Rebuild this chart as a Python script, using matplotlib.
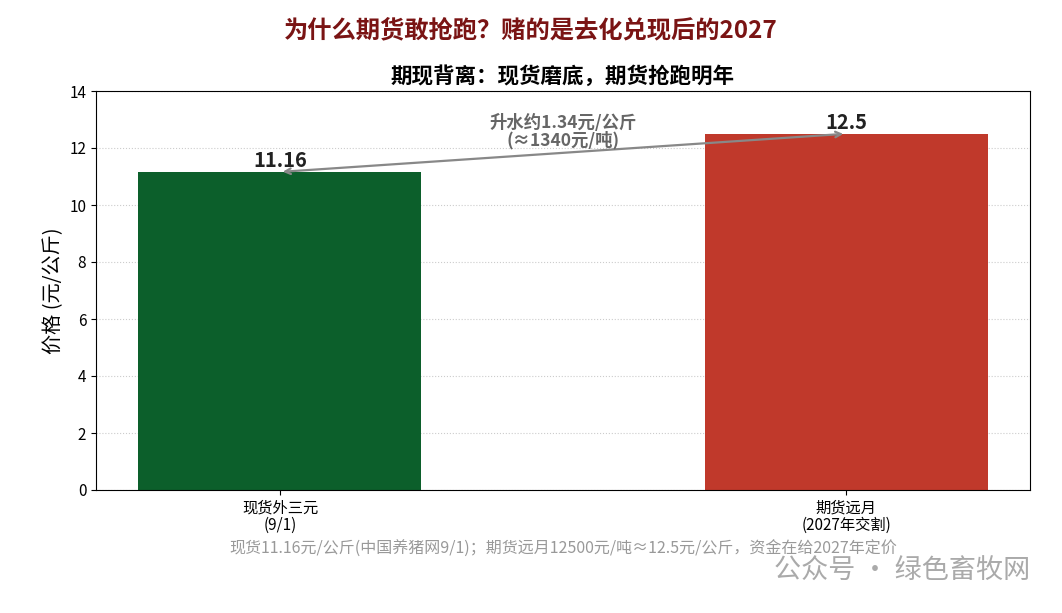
import matplotlib
matplotlib.use("Agg")
import matplotlib.pyplot as plt

plt.rcParams['font.family'] = ['Noto Sans CJK SC', 'DejaVu Sans']
plt.rcParams['axes.unicode_minus'] = False

# 数据
categories = ["现货外三元\n(9/1)", "期货远月\n(2027年交割)"]
prices = [11.16, 12.5]
bar_labels = ["11.16", "12.5"]
colors = ["#0c5f2b", "#c0392b"]
spread_text = "升水约1.34元/公斤\n(≈1340元/吨)"
note = "现货11.16元/公斤(中国养猪网9/1)；期货远月12500元/吨≈12.5元/公斤，资金在给2027年定价"

fig = plt.figure(figsize=(10.62, 6.13), dpi=100)
ax = fig.add_axes([96/1062, 1-490/613, (1030-96)/1062, (490-91)/613])

x = list(range(len(categories)))
ax.bar(x, prices, width=0.5, color=colors, zorder=2)
ax.set_ylim(0, 14)
ax.set_xticks(x)
ax.set_xticklabels(categories, fontsize=11, linespacing=1.0)
ax.tick_params(axis='y', labelsize=11)
ax.set_ylabel("价格 (元/公斤)", fontsize=14.5)
ax.yaxis.grid(True, linestyle=':', color='#cccccc', linewidth=0.8, zorder=0)
ax.set_axisbelow(True)

for xi, v, lab in zip(x, prices, bar_labels):
    ax.text(xi, v + 0.02, lab, ha='center', va='bottom', fontsize=14.5, fontweight='bold', color='#222222')

# 升水箭头
ax.annotate("", xy=(x[1], prices[1]), xytext=(x[0], prices[0]),
            arrowprops=dict(arrowstyle='<->', color='#888888', lw=1.6))
ax.text(0.5, (prices[0] + prices[1]) / 2 + 0.12, spread_text, ha='center', va='bottom',
        fontsize=12.5, fontweight='bold', color='#666666', linespacing=0.95)

ax.set_title("期现背离：现货磨底，期货抢跑明年", fontsize=15.5, fontweight='bold', pad=6)
fig.text(0.5, 1 - 30/613, "为什么期货敢抢跑？赌的是去化兑现后的2027", ha='center', va='center',
         fontsize=17.5, fontweight='bold', color='#7a1414')
fig.text(563/1062, 1 - 549/613, note, ha='center', va='center', fontsize=11.5, color='#999999')
fig.text(1030/1062, 1 - 571/613, "公众号 · 绿色畜牧网", ha='right', va='center', fontsize=19.5, color='#aaaaaa')

fig.savefig("out.png", dpi=100)
